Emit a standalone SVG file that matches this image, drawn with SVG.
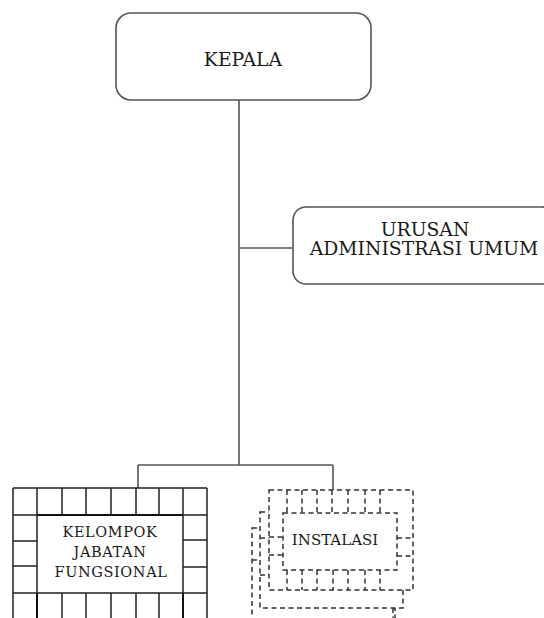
<svg xmlns="http://www.w3.org/2000/svg" width="544" height="618" viewBox="0 0 544 618">
<style>
.box{fill:#fff;stroke:#555;stroke-width:1.6}
.con{fill:none;stroke:#555;stroke-width:1.6}
.grid{fill:none;stroke:#222;stroke-width:1.5}
.dash{fill:#fff;stroke:#333;stroke-width:1.5;stroke-dasharray:5 3.5}
.dl{fill:none;stroke:#333;stroke-width:1.5;stroke-dasharray:5 3.5}
.t{font-family:"DejaVu Serif","Liberation Serif",serif;fill:#1a1a1a;text-anchor:middle}
</style>
<rect width="544" height="618" fill="#fff"/>
<g id="connectors">
<path class="con" d="M239,100 V465 M239,248 H293 M138,465 H333 M138,465 V488 M333,465 V490"/>
</g>
<g id="kepala">
<rect class="box" x="116" y="13" width="255" height="87" rx="15"/>
<text class="t" x="243" y="66" font-size="18.8">KEPALA</text>
</g>
<g id="urusan">
<rect class="box" x="293" y="207" width="262" height="77" rx="13"/>
<text class="t" x="425" y="236" font-size="18.8">URUSAN</text>
<text class="t" x="424" y="255" font-size="18.8">ADMINISTRASI UMUM</text>
</g>
<g id="kelompok">
<rect x="37" y="515" width="146" height="78" fill="#fff"/>
<path class="grid" d="M13,488 H207 M13,515 H207 M13,593 H207 M13,488 V620 M207,488 V620
M37,488 V515 M62,488 V515 M86,488 V515 M111,488 V515 M136,488 V515 M159,488 V515 M183,488 V515
M37,515 V593 M183,515 V593
M13,541 H37 M13,566 H37 M183,540 H207 M183,567 H207
M62,593 V620 M86,593 V620 M111,593 V620 M136,593 V620 M159,593 V620"/>
<path fill="none" stroke="#111" stroke-width="2" d="M37,593 V620 M183,593 V620 M37,515 H183"/>
<text class="t" x="110" y="537" font-size="14.5" letter-spacing="0.6">KELOMPOK</text>
<text class="t" x="110" y="557" font-size="14.5" letter-spacing="0.6">JABATAN</text>
<text class="t" x="111" y="577" font-size="14.5" letter-spacing="0.6">FUNGSIONAL</text>
</g>
<g id="instalasi">
<rect class="dash" x="252" y="528" width="143" height="100"/>
<path class="dl" d="M252,560 H262 M393,608 V618"/>
<rect class="dash" x="260" y="512" width="143" height="96"/>
<path class="dl" d="M260,538 H269 M260,575 H269"/>
<rect class="dash" x="269" y="490" width="144" height="100"/>
<rect class="dash" x="283" y="513" width="114" height="57"/>
<path class="dl" d="M287,490 V513 M302,490 V513 M317,490 V513 M332,490 V513 M348,490 V513 M365,490 V513 M380,490 V513
M287,570 V590 M302,570 V590 M317,570 V590 M333,570 V590 M348,570 V590 M365,570 V590 M380,570 V590
M269,537 H283 M269,555 H283 M397,538 H413 M397,556 H413"/>
<text class="t" x="335" y="545" font-size="15">INSTALASI</text>
</g>
</svg>
